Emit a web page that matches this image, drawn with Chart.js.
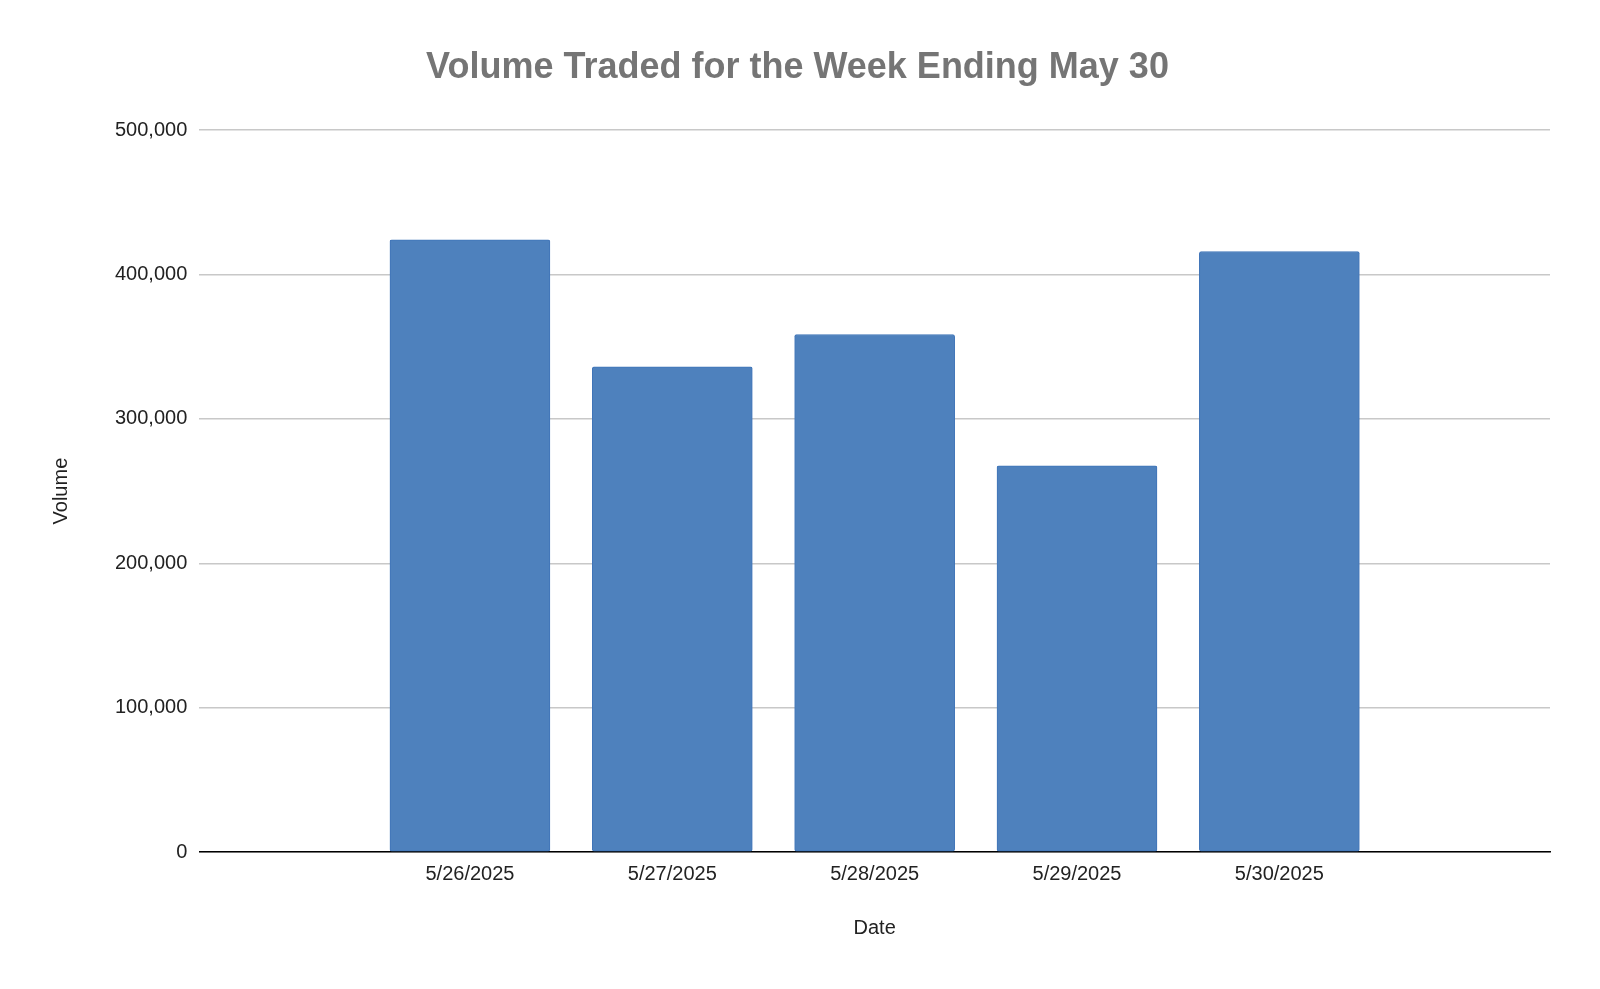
<!DOCTYPE html>
<html>
<head>
<meta charset="utf-8">
<script src="https://cdn.jsdelivr.net/npm/chart.js@4"></script>
<style>
  html, body { margin: 0; padding: 0; background: #fff; }
  #wrap { width: 1600px; height: 989px; }
</style>
</head>
<body>
<div id="wrap"><canvas id="chart"></canvas></div>
<script>
const dates = ['5/26/2025', '5/27/2025', '5/28/2025', '5/29/2025', '5/30/2025'];
const volumes = [424000, 336000, 358500, 267500, 416000];
const yTicks = [0, 100000, 200000, 300000, 400000, 500000];

const font = 'Liberation Sans, Arial, sans-serif';

new Chart(document.getElementById('chart'), {
  type: 'bar',
  data: {
    datasets: [{
      label: 'Volume',
      data: volumes.map((v, i) => ({ x: i, y: v })),
      backgroundColor: '#4e81bd',
      borderColor: '#3f74b8',
      borderWidth: 1,
      borderRadius: 2,
      borderSkipped: false,
      barThickness: 160,
    }],
  },
  options: {
    responsive: true,
    maintainAspectRatio: false,
    animation: false,
    layout: { padding: { left: 45, right: 50, top: 20, bottom: 45 } },
    plugins: {
      legend: { display: false },
      tooltip: { enabled: false },
      title: {
        display: true,
        text: 'Volume Traded for the Week Ending May 30',
        color: '#757575',
        font: { family: font, size: 36, weight: 'bold' },
        padding: { top: 26, bottom: 41 },
      },
    },
    scales: {
      x: {
        type: 'linear',
        min: -0.67,
        max: 4.67,
        afterBuildTicks: (axis) => { axis.ticks = dates.map((d, i) => ({ value: i })); },
        grid: { display: false, drawTicks: false },
        border: { color: '#000', width: 1.5 },
        ticks: {
          color: '#222', font: { family: font, size: 20 }, padding: 10,
          callback: (v) => dates[v],
        },
        title: {
          display: true, text: 'Date', color: '#222',
          font: { family: font, size: 20 }, padding: { top: 20 },
        },
      },
      y: {
        min: 0,
        max: 500000,
        afterBuildTicks: (axis) => { axis.ticks = yTicks.map(v => ({ value: v })); },
        grid: { color: '#c8c8c8', lineWidth: 1.5, drawTicks: false },
        border: { display: false },
        ticks: {
          color: '#222',
          font: { family: font, size: 20 },
          padding: 12,
          callback: (v) => v.toLocaleString('en-US'),
        },
        title: {
          display: true, text: 'Volume', color: '#222',
          font: { family: font, size: 20 }, padding: { bottom: 30 },
        },
      },
    },
  },
});
</script>
</body>
</html>
